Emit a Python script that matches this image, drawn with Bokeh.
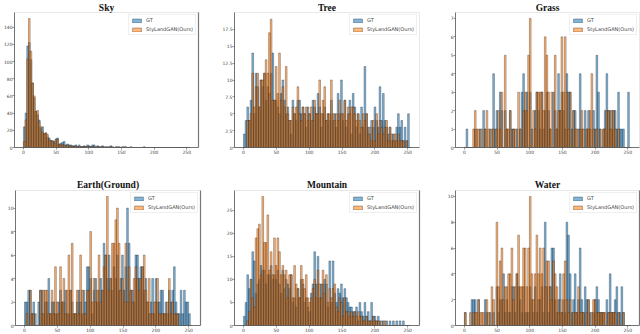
from bokeh.plotting import figure
from bokeh.layouts import column, row
from bokeh.models import Range1d, FixedTicker, Legend, LegendItem, LinearAxis
from bokeh.embed import file_html
from bokeh.resources import INLINE
import numpy as np

names = ["Sky", "Tree", "Grass", "Earth(Ground)", "Mountain", "Water"]
series_a = "GT"
series_b = "StyLandGAN(Ours)"

sky_gt = [24,40,118,122,102,75,58,42,38,32, 22,24,16,17,12,11,8,8,7,10, 11,4,5,6,7,3,4,3,3,2, 2,3,1,3,1,1,2,1,3,2,
          1,3,3,1,2,1,1,2,0,1, 1,0,2,1,0,1,0,1,0,1, 0,1,0,0,1,0,0,0,0,0, 0,0,0,0,0,0,0,0,0,0, 0,0,0,0,0,0,0,0,0,0, 0,0,0,0,0,0,0,0,0,0]
sky_st = [7,32,103,150,112,75,60,42,43,30, 24,18,16,17,15,9,8,7,5,9, 10,3,4,3,3,2,3,1,2,1, 1,2,1,1,1,1,1,1,1,1,
          1,1,1,0,1,1,0,1,1,0, 0,1,1,0,0,0,1,0,0,0, 1,0,0,0,0,0,0,0,0,0, 0,0,1,0,0,0,0,0,0,0, 0,0,0,0,0,0,0,0,0,0, 0,0,0,0,0,0,0,0,0,0]

tree_gt = [2,4,6,4,7,14,5,11,9,6, 10,9,11,7,9,8,11,14,7,7, 6,5,8,10,7,5,6,4,2,7, 5,4,7,7,5,6,5,3,6,5,
           4,7,6,5,8,6,3,5,6,4, 5,4,7,4,5,3,8,5,10,4, 7,3,5,7,2,8,6,3,5,2, 6,3,12,5,3,2,4,3,6,4, 3,9,4,8,4,3,2,3,1,2, 1,3,5,3,4,1,3,1,5,0]
tree_st = [0,0,4,4,5,11,6,9,11,6, 10,10,11,13,11,17,19,7,7,12, 8,14,7,9,6,12,5,4,4,6, 5,6,9,5,4,6,5,6,4,5,
           6,4,7,5,5,10,5,7,9,4, 5,5,10,5,4,5,4,7,5,5, 7,4,6,5,6,6,5,4,5,4, 3,5,4,5,2,3,1,4,1,5, 2,4,3,2,3,4,1,3,2,1, 2,1,2,1,1,1,0,1,0,0]

grass_gt = [0,1,0,0,0,0,1,0,0,1, 0,2,1,0,0,1,0,4,1,2, 0,3,2,0,2,1,0,2,1,1, 0,1,0,1,3,4,2,3,0,3, 1,0,2,3,2,1,3,1,2,3,
            2,1,0,3,2,1,4,2,3,2, 1,4,3,3,1,2,2,0,1,4, 1,0,2,1,2,1,0,2,1,5, 3,1,0,1,2,4,2,2,1,2, 2,1,3,1,1,1,0,0,3,0]
grass_st = [0,0,0,0,0,1,2,1,1,0, 1,0,1,2,1,0,1,1,0,1, 2,1,3,0,5,1,1,2,0,1, 1,0,3,1,0,2,3,2,5,7, 0,2,1,3,3,3,3,2,6,5,
            3,1,3,0,5,1,2,2,6,3, 6,3,1,3,0,2,1,1,0,1, 2,1,0,1,1,2,4,1,0,1, 0,1,0,1,1,2,2,1,2,2, 1,0,1,0,0,0,0,0,0,0]

earth_gt = [2,2,3,3,1,2,1,0,2,3, 3,1,2,2,4,1,2,2,1,1, 2,3,2,2,3,1,1,3,2,1, 1,2,3,2,1,3,2,5,5,4, 1,3,4,2,3,4,3,7,6,4,
            6,4,3,5,4,6,3,4,6,3, 5,10,7,3,3,2,6,6,4,5, 5,3,4,2,1,2,4,1,4,2, 2,3,3,1,2,1,3,2,3,5, 2,1,1,3,1,3,2,2,1,0]
earth_st = [0,1,0,3,1,1,0,0,0,3, 1,3,3,3,1,1,3,1,5,2, 1,5,2,4,1,3,6,3,7,1, 1,3,1,6,3,1,1,3,3,8, 2,4,2,3,6,2,3,5,6,11,
            3,4,7,7,9,10,7,3,4,2, 7,2,5,3,2,4,5,4,3,4, 5,6,3,2,4,1,1,2,2,4, 1,1,1,1,1,2,4,1,2,1, 1,1,0,0,0,0,0,0,0,0]

mount_gt = [2,5,11,8,10,16,14,7,9,10, 13,12,12,9,11,11,13,10,11,10, 12,9,7,12,8,10,9,8,11,5, 6,4,8,6,10,9,5,6,4,3,
            7,9,16,9,15,6,9,9,10,9, 4,14,5,14,7,5,8,7,9,6, 8,6,5,4,4,3,3,4,1,5, 3,2,5,2,3,1,5,2,2,1, 2,1,0,1,0,1,0,1,0,1, 0,1,0,1,0,1,0,0,0,0]
mount_st = [0,0,1,3,10,6,4,19,21,22, 11,28,18,18,24,12,16,11,19,13, 19,16,11,13,11,12,6,11,11,6, 13,9,8,6,13,10,8,11,6,5,
            6,8,10,6,12,9,6,12,7,11, 5,8,6,8,9,4,3,6,5,2, 6,3,3,2,3,2,3,2,3,2, 2,1,1,2,1,1,1,2,1,1, 1,0,1,0,1,0,0,0,0,0, 0,0,0,0,0,0,0,0,0,0]

water_gt = [1,0,0,0,2,2,2,0,2,0, 0,0,2,1,0,1,0,1,0,3, 1,2,2,4,1,2,1,1,3,3, 1,4,3,2,1,3,1,1,1,3, 2,1,3,1,2,2,3,1,8,3,
            1,3,6,6,2,1,2,4,1,2, 1,8,7,4,1,2,4,1,2,6, 2,1,3,2,2,1,0,1,2,3, 2,1,1,1,0,2,1,4,1,1, 2,3,1,1,3,1,0,0,0,0]
water_st = [1,0,0,1,0,1,1,1,2,1, 1,1,0,2,1,0,3,2,0,8, 3,5,6,2,3,3,4,4,6,2, 3,4,7,3,3,6,6,3,6,10, 4,2,4,7,4,6,4,6,3,5,
            5,3,2,5,4,3,1,2,1,4, 5,2,1,2,0,1,1,1,3,1, 1,1,0,1,2,0,1,2,2,1, 1,1,1,1,1,0,1,1,1,1, 1,0,1,0,0,1,0,0,0,0]

gt_all = [sky_gt, tree_gt, grass_gt, earth_gt, mount_gt, water_gt]
st_all = [sky_st, tree_st, grass_st, earth_st, mount_st, water_st]

y_ticks = [[0,20,40,60,80,100,120,140], [0,2.5,5,7.5,10,12.5,15,17.5], [0,1,2,3,4,5,6,7],
           [0,2,4,6,8,10], [0,5,10,15,20,25], [0,2,4,6,8,10]]
y_tops = [157, 20, 7.32, 11.5, 29.3, 10.46]
x_ticks = [0,50,100,150,200,250]

# layout: (width, height, border left, right, top, bottom)
layout = [(213,167,13,15,11,20), (212,167,21,6,11,20), (215,167,30,1,11,20),
          (213,167,15,13,23,7), (212,167,21,6,23,7), (215,167,30,1,23,7)]
right_spine = [True, False, False, True, True, True]
title_standoff = [0, 0, 0, 2, 2, 2]

edges = np.linspace(0, 255, 101)
BLUE = "#1f77b4"; ORANGE = "#ff7f0e"
figs = []
for i in range(6):
    w,h,bl,br,bt,bb = layout[i]
    p = figure(width=w, height=h, output_backend="svg", toolbar_location=None,
               x_range=Range1d(-13.7, 268), y_range=Range1d(0, y_tops[i]),
               min_border_left=bl, min_border_right=br, min_border_top=bt, min_border_bottom=bb,
               title=names[i])
    p.title.text_font = "Liberation Serif"; p.title.text_font_style = "bold"
    p.title.text_font_size = "9.5px"; p.title.align = "center"; p.title.text_color = "#111111"
    p.title.standoff = title_standoff[i]
    p.grid.visible = False
    p.outline_line_color = "#e8e8e8"; p.outline_line_width = 1
    a = p.quad(left=edges[:-1], right=edges[1:], bottom=0, top=gt_all[i], fill_color=BLUE, fill_alpha=0.55,
               line_color="#0a2a40", line_alpha=0.45, line_width=0.8)
    b = p.quad(left=edges[:-1], right=edges[1:], bottom=0, top=st_all[i], fill_color=ORANGE, fill_alpha=0.55,
               line_color="#40200a", line_alpha=0.45, line_width=0.8)
    leg = Legend(items=[LegendItem(label=series_a, renderers=[a]), LegendItem(label=series_b, renderers=[b])],
                 location="top_right", label_text_font="DejaVu Sans", label_text_font_size="5px",
                 label_text_color="#444444", glyph_width=11, glyph_height=5, label_standoff=4,
                 padding=2, margin=2, spacing=3, border_line_color="#e0e0e0", label_height=5,
                 background_fill_alpha=0.8)
    p.add_layout(leg)
    for ax, ticks in ((p.xaxis[0], x_ticks), (p.yaxis[0], y_ticks[i])):
        ax.ticker = FixedTicker(ticks=ticks)
        ax.major_label_text_font = "DejaVu Sans"; ax.major_label_text_font_size = "4.5px"
        ax.major_label_text_color = "#444444"; ax.major_label_standoff = 0
        ax.major_tick_out = 2; ax.major_tick_in = 0; ax.minor_tick_out = 0; ax.minor_tick_in = 0
        ax.major_tick_line_width = 0.6; ax.major_tick_line_color = "#555555"
        ax.axis_line_color = "#555555"; ax.axis_line_width = 0.8
    if right_spine[i]:
        r = LinearAxis(ticker=FixedTicker(ticks=[]), major_label_text_font_size="0px",
                       major_tick_out=0, minor_tick_out=0, axis_line_color="#777777", axis_line_width=1.2)
        p.add_layout(r, "right")
    figs.append(p)

page = column(row(figs[0], figs[1], figs[2], spacing=0), row(figs[3], figs[4], figs[5], spacing=0),
              spacing=0)
open("out.html", "w").write(file_html(page, INLINE))
